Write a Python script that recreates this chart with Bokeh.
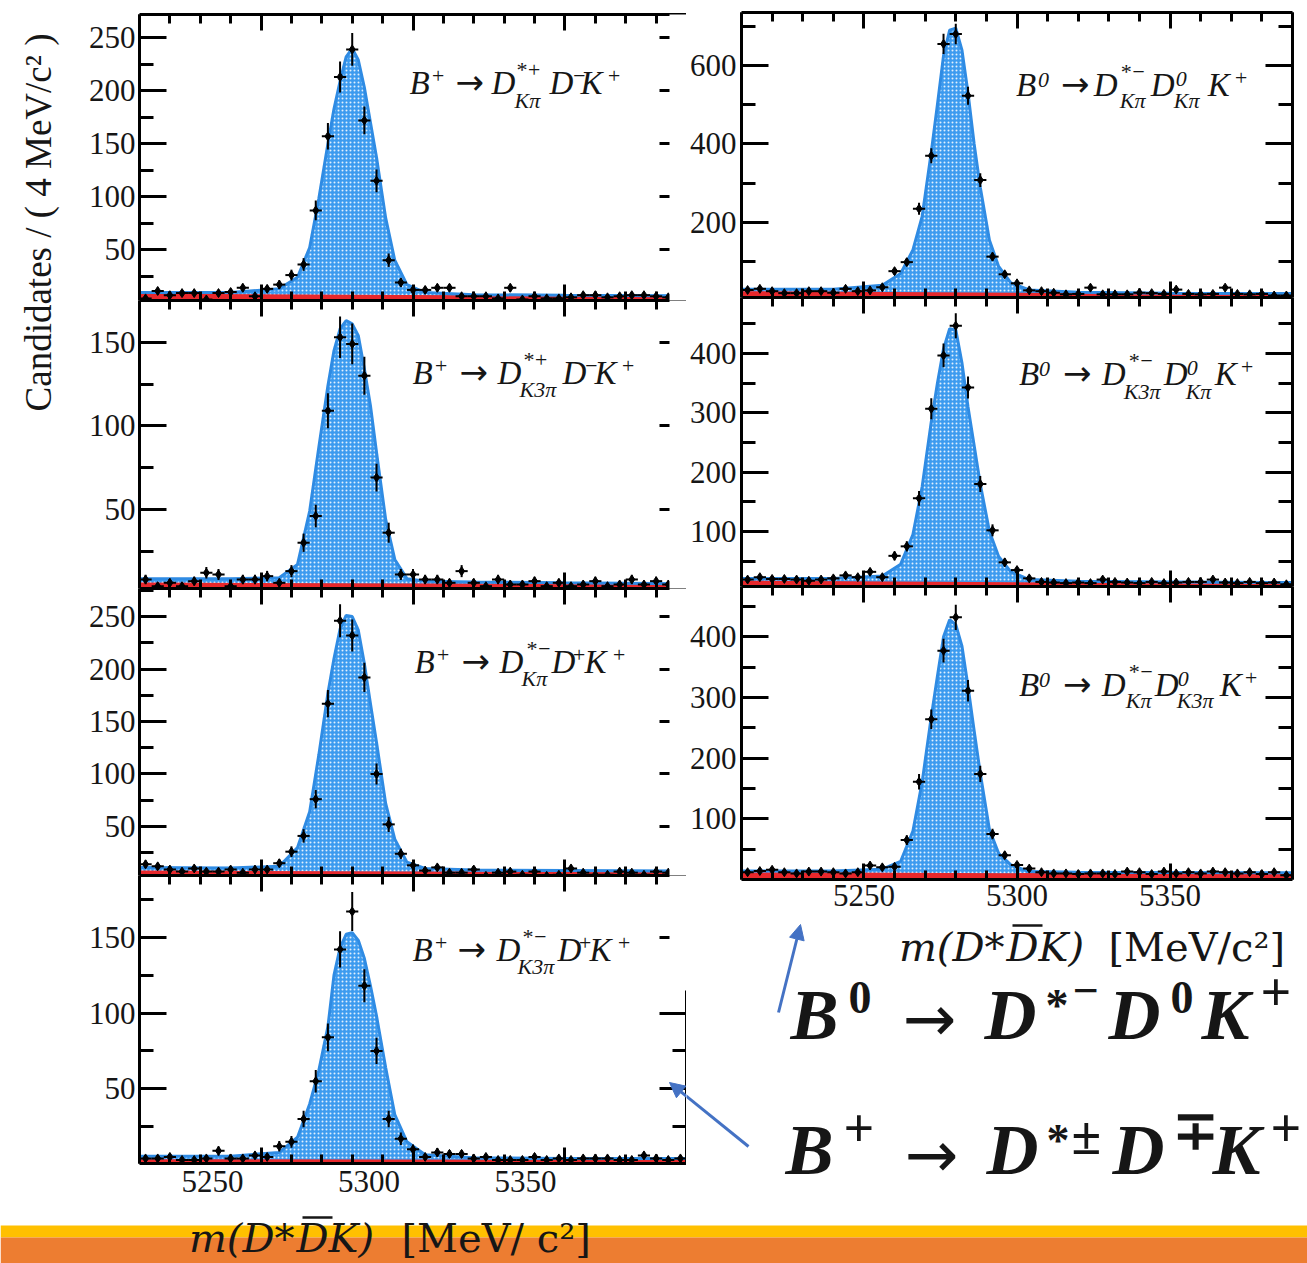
import numpy as np
from bokeh.plotting import figure
from bokeh.models import (Range1d, LinearAxis, FixedTicker, Label, Arrow, NormalHead,
                          BoxAnnotation, ColumnDataSource)
from bokeh.layouts import row, column
from bokeh.embed import file_html
from bokeh.resources import INLINE

# ---------------------------------------------------------------- data
# bin centres of the 4 MeV/c^2 histograms (both plots: 5210-5390)
MASS = [5212, 5216, 5220, 5224, 5228, 5232, 5236, 5240, 5244, 5248,
        5252, 5256, 5260, 5264, 5268, 5272, 5276, 5280, 5284, 5288,
        5292, 5296, 5300, 5304, 5308, 5312, 5316, 5320, 5324, 5328,
        5332, 5336, 5340, 5344, 5348, 5352, 5356, 5360, 5364, 5368,
        5372, 5376, 5380, 5384, 5388]
BIN_HALF_WIDTH = 2

# candidates per bin
P1_COUNTS = [4, 11, 7, 9, 9, 3, 9, 10, 14, 6, 13, 17, 26, 36, 87, 157, 213, 239, 172, 115,
             40, 19, 12, 12, 14, 14, 6, 6, 6, 4, 14, 3, 6, 4, 4, 5, 7, 7, 5, 6, 7, 7, 6, 5, 5]
P2_COUNTS = [8, 4, 6, 4, 7, 12, 11, 4, 8, 8, 10, 6, 13, 30, 46, 109, 153, 149, 130, 69,
             36, 11, 11, 8, 8, 6, 13, 6, 4, 8, 5, 5, 7, 4, 6, 4, 5, 7, 4, 5, 8, 5, 7, 5, 4]
P3_COUNTS = [14, 12, 9, 7, 10, 7, 7, 9, 6, 9, 9, 15, 26, 41, 76, 167, 246, 232, 192, 100,
             52, 24, 13, 8, 11, 6, 6, 9, 3, 6, 7, 4, 7, 3, 4, 10, 6, 4, 4, 7, 6, 4, 7, 6, 5]
P4_COUNTS = [4, 4, 5, 3, 3, 4, 9, 4, 4, 6, 5, 12, 15, 30, 55, 84, 142, 167, 118, 75,
             30, 17, 10, 5, 8, 7, 7, 4, 5, 3, 3, 3, 5, 3, 4, 3, 4, 4, 4, 3, 3, 6, 4, 3, 4]
Q1_COUNTS = [28, 31, 25, 20, 20, 25, 25, 21, 31, 25, 27, 35, 76, 99, 235, 370, 655, 680, 523, 308,
             113, 68, 45, 27, 25, 21, 17, 18, 34, 17, 17, 17, 21, 20, 18, 29, 18, 17, 18, 34,
             18, 17, 18, 14, 14]
Q2_COUNTS = [19, 23, 20, 20, 19, 17, 19, 21, 26, 23, 32, 23, 59, 75, 156, 307, 397, 447, 343, 180,
             102, 48, 35, 21, 15, 14, 13, 14, 13, 19, 15, 14, 13, 15, 13, 14, 15, 15, 19, 14,
             13, 15, 13, 14, 11]
Q3_COUNTS = [12, 14, 16, 12, 10, 13, 13, 12, 10, 12, 23, 20, 21, 65, 161, 264, 377, 432, 311, 174,
             75, 40, 24, 18, 12, 10, 10, 9, 10, 10, 9, 13, 12, 9, 13, 10, 12, 10, 13, 12,
             10, 12, 9, 12, 7]

# fitted total model at these masses
CURVE_MASS = [5210, 5240, 5256, 5262, 5266, 5269, 5272, 5274, 5276, 5278, 5280,
              5282, 5284, 5286, 5288, 5291, 5294, 5298, 5304, 5320, 5350, 5390]
P1_CURVE = [9.5, 9.5, 13, 24, 52, 98, 150, 183, 209, 232, 240, 229, 203, 170, 137, 80, 40, 17, 9.5, 7.5, 7, 6.5]
P2_CURVE = [8.5, 8.5, 9, 17, 49, 87, 124, 145, 158, 163, 161, 154, 134, 112, 84, 44, 20, 8.5, 7, 6.5, 6, 5.5]
P3_CURVE = [11, 10.5, 12, 30, 64, 118, 177, 210, 238, 251, 250, 237, 205, 167, 130, 72, 38, 16, 10, 8.5, 8, 7.5]
P4_CURVE = [5.5, 5.5, 8, 18, 40, 62, 91, 125, 143, 152, 153, 148, 136, 118, 98, 64, 33, 15, 6.5, 4.5, 4, 4]
Q1_CURVE = [30, 30, 40, 70, 130, 215, 380, 500, 625, 690, 695, 640, 530, 400, 290, 155, 88, 46, 28, 22, 20, 19]
Q2_CURVE = [21, 21, 25, 45, 95, 175, 285, 350, 408, 442, 440, 385, 310, 245, 180, 100, 58, 32, 19, 16, 15, 14]
Q3_CURVE = [14, 14, 17, 30, 80, 160, 268, 335, 400, 428, 420, 385, 318, 245, 175, 82, 43, 24, 13, 12, 11.5, 11]

# combinatorial background component (at the two ends of the range)
BKG_MASS = [5210, 5390]
P1_BKG = [8.5, 6]
P2_BKG = [6.2, 5]
P3_BKG = [8, 6.5]
P4_BKG = [3.5, 3]
Q1_BKG = [25, 17]
Q2_BKG = [17, 12]
Q3_BKG = [12, 9]

# axis ticks and labels
X_MAJOR = [5250, 5300, 5350]
X_TICK_LABELS = ["5250", "5300", "5350"]
X_MINOR = [5210, 5220, 5230, 5240, 5260, 5270, 5280, 5290, 5310, 5320, 5330, 5340,
           5360, 5370, 5380, 5390]
P1_YT, P1_YM = [50, 100, 150, 200, 250], [25, 75, 125, 175, 225]
P2_YT, P2_YM = [50, 100, 150], [25, 75, 125]
P3_YT, P3_YM = [50, 100, 150, 200, 250], [25, 75, 125, 175, 225, 275]
P4_YT, P4_YM = [50, 100, 150], [25, 75, 125, 175]
Q1_YT, Q1_YM = [200, 400, 600], [100, 300, 500, 700]
Q2_YT, Q2_YM = [100, 200, 300, 400], [50, 150, 250, 350, 450]
Q3_YT, Q3_YM = [100, 200, 300, 400], [50, 150, 250, 350, 450]

Y_TITLE = "Candidates / ( 4 MeV/c\u00b2 )"
# x title "m(D* Dbar K) [MeV/c^2]" in pieces: the bar over the second D is drawn as a line
X_TITLE_A, X_TITLE_B, X_TITLE_C = "m(D*", "D", "K)"
X_TITLE_LEFT_RM = "[MeV/ c\u00b2]"
X_TITLE_RIGHT_RM = "[MeV/c\u00b2]"

# decay labels: (text, dx, dy, style) relative to the first letter's baseline
P1_TOK = [("B", 0, 0, "L"), ("+", 21, -10, "S"), ("\u2192", 46, 0, "A"), ("D", 82, 0, "L"),
          ("*+", 106, -17, "S"), ("K\u03c0", 105, 14, "S"), ("D", 140, 0, "L"),
          ("\u2212", 162, -10, "S"), ("K", 171, 0, "L"), ("+", 197, -10, "S")]
P2_TOK = [("B", 0, 0, "L"), ("+", 21, -10, "S"), ("\u2192", 47, 0, "A"), ("D", 85, 0, "L"),
          ("*+", 110, -17, "S"), ("K3\u03c0", 107, 13, "S"), ("D", 150, 0, "L"),
          ("\u2212", 171, -10, "S"), ("K", 182, 0, "L"), ("+", 208, -10, "S")]
P3_TOK = [("B", 0, 0, "L"), ("+", 21, -10, "S"), ("\u2192", 47, 0, "A"), ("D", 85, 0, "L"),
          ("*\u2212", 111, -17, "S"), ("K\u03c0", 107, 13, "S"), ("D", 137, 0, "L"),
          ("+", 157, -10, "S"), ("K", 170, 0, "L"), ("+", 197, -10, "S")]
P4_TOK = [("B", 0, 0, "L"), ("+", 21, -10, "S"), ("\u2192", 45, 0, "A"), ("D", 84, 0, "L"),
          ("*\u2212", 109, -17, "S"), ("K3\u03c0", 105, 13, "S"), ("D", 145, 0, "L"),
          ("+", 165, -10, "S"), ("K", 177, 0, "L"), ("+", 204, -10, "S")]
Q1_TOK = [("B", 0, 0, "L"), ("0", 22, -8, "S"), ("\u2192", 45, 0, "A"), ("D", 78, 0, "L"),
          ("*\u2212", 104, -17, "S"), ("K\u03c0", 104, 12, "S"), ("D", 135, 0, "L"),
          ("0", 160, -9, "S"), ("K\u03c0", 158, 12, "S"), ("K", 192, 0, "L"), ("+", 218, -10, "S")]
Q2_TOK = [("B", 0, 0, "L"), ("0", 20, -8, "S"), ("\u2192", 44, 0, "A"), ("D", 83, 0, "L"),
          ("*\u2212", 109, -17, "S"), ("K3\u03c0", 105, 14, "S"), ("D", 145, 0, "L"),
          ("0", 168, -9, "S"), ("K\u03c0", 167, 14, "S"), ("K", 196, 0, "L"), ("+", 221, -10, "S")]
Q3_TOK = [("B", 0, 0, "L"), ("0", 20, -8, "S"), ("\u2192", 44, 0, "A"), ("D", 83, 0, "L"),
          ("*\u2212", 109, -17, "S"), ("K\u03c0", 107, 12, "S"), ("D", 136, 0, "L"),
          ("0", 159, -9, "S"), ("K3\u03c0", 158, 12, "S"), ("K", 201, 0, "L"), ("+", 225, -10, "S")]

# big formulas on the slide: (text, x, baseline, style)
BIG_TOK = [("B", 790, 1038, "BL"), ("0", 848, 1012, "BS"), ("\u2192", 902, 1040, "BA"),
           ("D", 984, 1038, "BL"), ("*", 1045, 1020, "BS"), ("\u2212", 1072, 1005, "BS"),
           ("D", 1108, 1038, "BL"), ("0", 1170, 1012, "BS"), ("K", 1201, 1038, "BL"),
           ("+", 1260, 1009, "BP"),
           ("B", 785, 1173, "BL"), ("+", 843, 1145, "BP"), ("\u2192", 904, 1176, "BA"),
           ("D", 986, 1173, "BL"), ("*", 1046, 1155, "BS"), ("\u00b1", 1071, 1153, "BP"),
           ("D", 1112, 1173, "BL"), ("\u2213", 1172, 1148, "BP"), ("K", 1212, 1173, "BL"),
           ("+", 1270, 1145, "BP")]

# ---------------------------------------------------------------- style
SERIF = "Liberation Serif"
TITLE_FONT = "DejaVu Serif"
TEXT_C = "#161616"
SIG_FILL = "#3d9bef"
SIG_LINE = "#2f8be3"
BKG_FILL = "#e8282c"
ARROW_C = "#4472C4"
# measured: an "alphabetic" label lands about a third of its size below the given y
BASELINE_FIX = 0.33
STYLES = {
    "L": (SERIF, "italic", 33),
    "S": (SERIF, "italic", 22),
    "A": ("DejaVu Sans", "normal", 34),
    "BL": (SERIF, "bold italic", 72),
    "BS": (SERIF, "bold", 46),
    "BP": (SERIF, "bold", 54),
    "BA": ("DejaVu Sans", "normal", 64),
}


def style_axis(ax, major_in, minor_in, labels=False, line=True, size="28px", standoff=4):
    ax.major_tick_in = major_in
    ax.major_tick_out = 0
    ax.minor_tick_in = minor_in
    ax.minor_tick_out = 0
    ax.major_tick_line_width = 3
    ax.minor_tick_line_width = 3
    ax.major_tick_line_color = "black" if major_in else None
    ax.minor_tick_line_color = "black" if minor_in else None
    ax.axis_line_width = 3
    ax.axis_line_color = "black" if line else None
    if labels:
        ax.major_label_text_font = SERIF
        ax.major_label_text_font_size = size
        ax.major_label_text_color = TEXT_C
        ax.major_label_standoff = standoff
    else:
        # ticks only: labels are not painted
        ax.major_label_text_font_size = "1px"
        ax.major_label_text_color = None
        ax.major_label_standoff = 0


def text_at(p, x, base, text, font, style, size, align="left", named=False):
    kw = dict(x=x, y=base - BASELINE_FIX * size, text=text, text_color=TEXT_C,
              text_baseline="alphabetic", text_align=align, text_font=font,
              text_font_style=style, text_font_size=f"{size}px")
    if named:
        kw.update(x_range_name="px", y_range_name="py")
    p.add_layout(Label(**kw))


def add_tokens(p, x0, y0, tokens, named=True):
    for txt, dx, dy, st in tokens:
        font, style, size = STYLES[st]
        text_at(p, x0 + dx, y0 + dy, txt, font, style, size, named=named)


def blank(w, h, xr, yr, bl=0, br=0):
    p = figure(width=w, height=h, x_range=Range1d(*xr), y_range=Range1d(*yr),
               output_backend="svg", toolbar_location=None, x_axis_location=None,
               y_axis_location=None, min_border=0, min_border_left=bl, min_border_right=br,
               min_border_top=0, min_border_bottom=0, outline_line_color=None,
               background_fill_color="white", border_fill_color="white")
    p.xgrid.visible = False
    p.ygrid.visible = False
    return p


def make_panel(counts, curve, bkg, spec):
    fx0, fx1, fy0, fy1 = spec["frame"]
    extra_x = {"px": Range1d(fx0, fx1)}
    if "label_range" in spec:
        extra_x["lbl"] = Range1d(*spec["label_range"])
    p = figure(width=spec["w"], height=spec["h"], x_range=Range1d(*spec["xr"]),
               y_range=Range1d(*spec["yr"]), output_backend="svg", toolbar_location=None,
               min_border_left=spec["bl"], min_border_right=spec["br"],
               min_border_top=spec["bt"], min_border_bottom=spec["bb"],
               outline_line_color=None, background_fill_color="white",
               border_fill_color="white")
    p.extra_x_ranges = extra_x
    p.extra_y_ranges = {"py": Range1d(fy1, fy0)}
    p.xgrid.visible = False
    p.ygrid.visible = False

    p.varea(x=CURVE_MASS, y1=0, y2=curve, fill_color=SIG_FILL, fill_alpha=1.0,
            hatch_pattern="dot", hatch_color="white", hatch_alpha=0.85,
            hatch_scale=4, hatch_weight=1.2)
    p.varea(x=BKG_MASS, y1=0, y2=bkg, fill_color=BKG_FILL, fill_alpha=1.0)
    p.line(CURVE_MASS, curve, line_color=SIG_LINE, line_width=3)

    n = np.array(counts, dtype=float)
    m = np.array(MASS, dtype=float)
    err = np.sqrt(n)
    src = ColumnDataSource(dict(m=m, n=n, lo=n - err, hi=n + err,
                                ml=m - BIN_HALF_WIDTH, mr=m + BIN_HALF_WIDTH))
    p.segment("m", "lo", "m", "hi", source=src, line_color="black", line_width=2)
    p.segment("ml", "n", "mr", "n", source=src, line_color="black", line_width=2)
    p.scatter("m", "n", source=src, marker="diamond", size=9, color="black")

    xt = FixedTicker(ticks=X_MAJOR, minor_ticks=X_MINOR)
    yt = FixedTicker(ticks=spec["yt"], minor_ticks=spec["ym"])
    bottom = p.below[0]
    left = p.left[0]
    bottom.ticker = xt
    left.ticker = yt
    style_axis(bottom, 16, 9, labels=spec.get("xlabels", False), size="31px", standoff=5)
    if spec.get("xlabels", False):
        bottom.major_label_overrides = dict(zip(X_MAJOR, X_TICK_LABELS))
    style_axis(left, 27, 14, labels=True, size=spec["ysize"], standoff=spec["ystand"])
    top = LinearAxis(ticker=xt)
    style_axis(top, 16, 9)
    p.add_layout(top, "above")
    right = LinearAxis(ticker=yt)
    style_axis(right, 27, 14)
    p.add_layout(right, "right")

    if "label_range" in spec:
        la = LinearAxis(x_range_name="lbl", ticker=FixedTicker(ticks=X_MAJOR, minor_ticks=[]),
                        major_label_overrides=dict(zip(X_MAJOR, X_TICK_LABELS)))
        style_axis(la, 0, 0, labels=True, line=False, size="31px", standoff=7)
        p.add_layout(la, "below")

    if "cover" in spec:
        c = spec["cover"]
        p.add_layout(BoxAnnotation(left=c[0], right=c[1], top=c[2], bottom=c[3],
                                   x_range_name="px", y_range_name="py", fill_color="white",
                                   fill_alpha=1.0, line_color=None, level="overlay"))

    add_tokens(p, spec["tx"], spec["ty"], spec["tokens"])
    return p


LEFT_W, RIGHT_W = 626, 621
specs = {
    "p1": dict(w=LEFT_W, h=300, bl=79, br=0, bt=14, bb=0, xr=(5210, 5390), yr=(2, 272),
               frame=(139, 686, 14, 300), yt=P1_YT, ym=P1_YM, ysize="31px", ystand=4,
               cover=(669, 700, -20, 320), tx=409, ty=93, tokens=P1_TOK),
    "p2": dict(w=LEFT_W, h=288, bl=79, br=0, bt=0, bb=0, xr=(5210, 5390), yr=(2.6, 175.0),
               frame=(139, 686, 300, 588), yt=P2_YT, ym=P2_YM, ysize="31px", ystand=4,
               cover=(669, 700, 280, 600), tx=412, ty=383, tokens=P2_TOK),
    "p3": dict(w=LEFT_W, h=287, bl=79, br=0, bt=0, bb=0, xr=(5210, 5390), yr=(3.3, 276.7),
               frame=(139, 686, 588, 875), yt=P3_YT, ym=P3_YM, ysize="31px", ystand=4,
               cover=(669, 700, 570, 890), tx=414, ty=672, tokens=P3_TOK),
    "p4": dict(w=LEFT_W, h=331, bl=79, br=0, bt=0, bb=43, xr=(5210, 5390), yr=(0.66, 190.8),
               frame=(139, 686, 875, 1163), yt=P4_YT, ym=P4_YM, ysize="31px", ystand=4,
               cover=(669, 700, 860, 990), tx=412, ty=960, tokens=P4_TOK,
               label_range=(5226.7, 5401.4)),
    "q1": dict(w=RIGHT_W, h=297, bl=54, br=15, bt=12, bb=0, xr=(5210, 5390), yr=(8.9, 735),
               frame=(740, 1292, 12, 297), yt=Q1_YT, ym=Q1_YM, ysize="31px", ystand=5,
               tx=1015, ty=95, tokens=Q1_TOK),
    "q2": dict(w=RIGHT_W, h=289, bl=54, br=15, bt=0, bb=0, xr=(5210, 5390), yr=(7.3, 494.6),
               frame=(740, 1292, 297, 586), yt=Q2_YT, ym=Q2_YM, ysize="31px", ystand=5,
               tx=1018, ty=384, tokens=Q2_TOK),
    "q3": dict(w=RIGHT_W, h=334, bl=54, br=15, bt=0, bb=41, xr=(5210, 5390), yr=(0, 482.7),
               frame=(740, 1292, 586, 879), yt=Q3_YT, ym=Q3_YM, ysize="31px", ystand=5,
               tx=1018, ty=695, tokens=Q3_TOK, xlabels=True),
}

p1 = make_panel(P1_COUNTS, P1_CURVE, P1_BKG, specs["p1"])
p2 = make_panel(P2_COUNTS, P2_CURVE, P2_BKG, specs["p2"])
p3 = make_panel(P3_COUNTS, P3_CURVE, P3_BKG, specs["p3"])
p4 = make_panel(P4_COUNTS, P4_CURVE, P4_BKG, specs["p4"])
q1 = make_panel(Q1_COUNTS, Q1_CURVE, Q1_BKG, specs["q1"])
q2 = make_panel(Q2_COUNTS, Q2_CURVE, Q2_BKG, specs["q2"])
q3 = make_panel(Q3_COUNTS, Q3_CURVE, Q3_BKG, specs["q3"])

UP_ARROW = (778, 1012, 800, 924)
LOW_ARROW = (748, 1146, 669, 1082)


def add_arrow(p, a, named):
    kw = dict(end=NormalHead(size=15, fill_color=ARROW_C, line_color=ARROW_C, line_width=1),
              x_start=a[0], y_start=a[1], x_end=a[2], y_end=a[3],
              line_color=ARROW_C, line_width=3)
    if named:
        kw.update(x_range_name="px", y_range_name="py")
    p.add_layout(Arrow(**kw))


def add_x_title(p, x_d, base, overline_y, rm_x, rm_text):
    """x title: 'm(D*' + D with a bar over it + 'K)' + units."""
    size = 40
    text_at(p, x_d - 2, base, X_TITLE_A, TITLE_FONT, "italic", size, align="right")
    text_at(p, x_d, base, X_TITLE_B, TITLE_FONT, "italic", size)
    text_at(p, x_d + 32, base, X_TITLE_C, TITLE_FONT, "italic", size)
    p.add_layout(Arrow(x_start=x_d + 6, y_start=overline_y, x_end=x_d + 36, y_end=overline_y,
                       start=None, end=None, line_color=TEXT_C, line_width=2.5))
    text_at(p, rm_x, base, rm_text, TITLE_FONT, "normal", size)


add_arrow(p4, LOW_ARROW, True)

# y-axis title column
ylab = blank(60, 1206, (0, 60), (1206, 0))
ylab.add_layout(Label(x=38, y=222, text=Y_TITLE, angle=np.pi / 2, text_align="center",
                      text_baseline="middle", text_font=SERIF, text_font_size="37px",
                      text_color=TEXT_C))

# slide text under the right picture (whole canvas is the frame)
tf = blank(RIGHT_W, 286, (686, 1307), (1206, 920))
add_x_title(tf, 1006, 960, 925, 1108, X_TITLE_RIGHT_RM)
add_tokens(tf, 0, 0, BIG_TOK, named=False)
add_arrow(tf, UP_ARROW, False)
add_arrow(tf, LOW_ARROW, False)

# bottom band of the slide with the left x-axis title
bar = blank(1307, 57, (0, 1307), (1263, 1206))
bar.add_layout(BoxAnnotation(left=0, right=1307, top=1225, bottom=1237, fill_color="#FFC000",
                             fill_alpha=1.0, line_color=None, level="underlay"))
bar.add_layout(BoxAnnotation(left=0, right=1307, top=1237, bottom=1263, fill_color="#ED7D31",
                             fill_alpha=1.0, line_color=None, level="underlay"))
add_x_title(bar, 296, 1251, 1217, 401, X_TITLE_LEFT_RM)

left_col = column(p1, p2, p3, p4)
right_col = column(q1, q2, q3, row(tf))
page = column(row(ylab, left_col, right_col), bar)

open("out.html", "w").write(file_html(page, INLINE, title="B to D* Dbar K mass fits"))
